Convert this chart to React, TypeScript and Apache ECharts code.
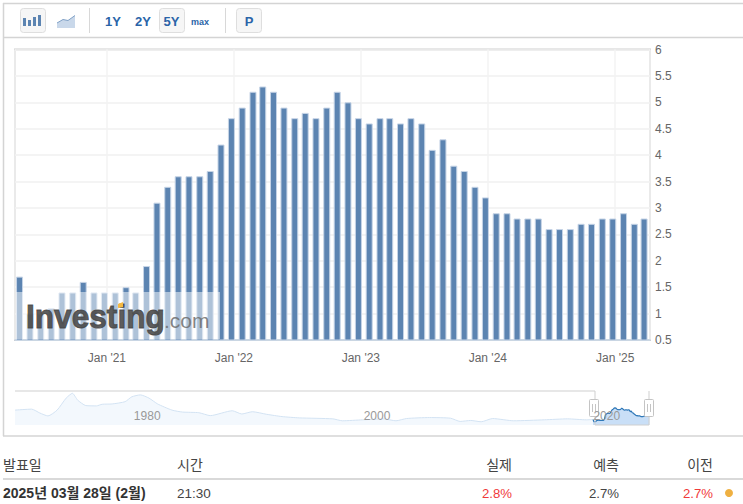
import React, { useEffect, useRef } from "react";
import * as echarts from "echarts";

const releaseDates = [
  "2020-04-25","2020-05-25","2020-06-25","2020-07-25","2020-08-25","2020-09-25","2020-10-25","2020-11-25","2020-12-25",
  "2021-01-25","2021-02-25","2021-03-25","2021-04-25","2021-05-25","2021-06-25","2021-07-25","2021-08-25","2021-09-25","2021-10-25","2021-11-25","2021-12-25",
  "2022-01-25","2022-02-25","2022-03-25","2022-04-25","2022-05-25","2022-06-25","2022-07-25","2022-08-25","2022-09-25","2022-10-25","2022-11-25","2022-12-25",
  "2023-01-25","2023-02-25","2023-03-25","2023-04-25","2023-05-25","2023-06-25","2023-07-25","2023-08-25","2023-09-25","2023-10-25","2023-11-25","2023-12-25",
  "2024-01-25","2024-02-25","2024-03-25","2024-04-25","2024-05-25","2024-06-25","2024-07-25","2024-08-25","2024-09-25","2024-10-25","2024-11-25","2024-12-25",
  "2025-01-25","2025-02-25","2025-03-25",
];
const releaseValues = [
  1.7,1.0,1.0,1.1,1.4,1.4,1.6,1.4,1.4,
  1.4,1.5,1.4,1.9,3.1,3.4,3.6,3.6,3.6,3.7,4.2,4.7,
  4.9,5.2,5.3,5.2,4.9,4.7,4.8,4.7,4.9,5.2,5.0,4.7,
  4.6,4.7,4.7,4.6,4.7,4.6,4.1,4.3,3.8,3.7,3.4,3.2,
  2.9,2.9,2.8,2.8,2.8,2.6,2.6,2.6,2.7,2.7,2.8,2.8,
  2.9,2.7,2.8,
];
const historyDates = [
  "1970-01-01","1971-06-15","1972-03-01","1972-11-15","1973-09-01","1974-06-15","1975-01-01","1975-06-15","1976-03-01","1977-02-01",
  "1977-08-01","1978-06-15","1979-08-01","1980-03-01","1980-12-01","1981-09-01","1982-06-01","1983-09-01","1984-08-01","1986-01-01",
  "1987-01-01","1988-12-01","1989-10-01","1990-09-01","1991-12-01","1993-04-01","1994-10-01","1997-09-01","1998-07-01","2000-04-01",
  "2002-02-01","2003-03-01","2004-02-01","2006-02-01","2007-12-01","2008-10-01","2009-09-01","2010-08-01","2011-08-01","2013-06-01",
  "2016-02-01","2018-02-01","2019-10-01","2020-04-25",
];
const historyValues = [
  4.6,4.9,3.7,2.8,4.6,8.3,9.8,7.7,6.0,5.9,
  6.4,6.5,7.2,8.7,9.3,8.3,6.5,4.6,4.0,3.8,
  2.9,4.4,3.4,4.1,3.3,2.6,2.2,1.9,1.3,1.6,
  1.9,1.3,2.0,2.3,2.1,1.1,1.4,1.0,2.0,1.3,
  1.6,1.9,1.6,1.7,
];
const navigatorYears = [1980, 2000, 2020];
const rangeButtons = ["1Y", "2Y", "5Y"];
const tableHeaders = ["실제", "예측", "이전"];
const tableRow = ["2.8%", "2.7%", "2.7%"];
const releaseLabel = "2025년 03월 28일 (2월)";
const releaseTime = "21:30";

const FONT = '"Liberation Sans", "Noto Sans CJK KR", sans-serif';
const YEAR = 365.25 * 86400000;

const hline = (x1: number, x2: number, y: number, stroke = "#d4d4d4", lineWidth = 1.5, z = 5) => ({
  type: "line", z, shape: { x1, y1: y, x2, y2: y }, style: { stroke, lineWidth },
});
const vline = (x: number, y1: number, y2: number, stroke = "#d4d4d4", lineWidth = 1.5, z = 5) => ({
  type: "line", z, shape: { x1: x, y1, x2: x, y2 }, style: { stroke, lineWidth },
});
const btn = (x: number, width: number) => ({
  type: "rect", z: 5, shape: { x: x + 0.5, y: 8.5, width, height: 24, r: 3 },
  style: { fill: "#f6f6f6", stroke: "#dedede", lineWidth: 1 },
});
const txt = (x: number, y: number, text: string, fill: string, font: string, align = "left", z = 6) => ({
  type: "text", z, x, y, style: { text, fill, font, textAlign: align, textVerticalAlign: "middle" },
});
const handle = (cx: number) => ({
  type: "group", children: [
    { type: "rect", z: 5, shape: { x: cx - 4.5, y: 399.5, width: 9, height: 17, r: 1 }, style: { fill: "#fff", stroke: "#c4c4c4", lineWidth: 1 } },
    { type: "line", z: 6, shape: { x1: cx - 1.5, y1: 404, x2: cx - 1.5, y2: 412 }, style: { stroke: "#c4c4c4", lineWidth: 1 } },
    { type: "line", z: 6, shape: { x1: cx + 1.5, y1: 404, x2: cx + 1.5, y2: 412 }, style: { stroke: "#c4c4c4", lineWidth: 1 } },
  ],
});

export default function App() {
  const ref = useRef<HTMLDivElement>(null);
  useEffect(() => {
    document.body.style.margin = "0";
    const chart = echarts.init(ref.current!, null, { renderer: "svg" });
    const bars = releaseDates.map((d, i) => [d, releaseValues[i]]);
    const history = historyDates.map((d, i) => [d, historyValues[i]]);
    chart.setOption({
      animation: false,
      backgroundColor: "#fff",
      grid: [
        { left: 15, top: 49.5, width: 635, height: 290.5, show: true, borderColor: "#cfcfcf", borderWidth: 2, backgroundColor: "#fff" },
        { left: 15, top: 391, width: 635, height: 34 },
      ],
      xAxis: [
        {
          type: "time", gridIndex: 0, min: "2020-04-22", max: "2025-04-01",
          minInterval: YEAR * 0.99, maxInterval: YEAR * 1.01,
          axisLine: { show: true, lineStyle: { color: "#c0d0e0", width: 1.5 } },
          axisTick: { show: false },
          splitLine: { show: true, lineStyle: { color: "#f3f3f3", width: 1.5 } },
          axisLabel: {
            color: "#666", fontFamily: FONT, fontSize: 12, margin: 12, showMinLabel: false, showMaxLabel: false,
            formatter: (v: number) => {
              const d = new Date(v);
              return d.getMonth() === 0 ? `Jan '${String(d.getFullYear()).slice(2)}` : "";
            },
          },
        },
        {
          type: "time", gridIndex: 1, min: "1970-01-01", max: "2025-04-11", z: 10,
          minInterval: YEAR * 9.9, maxInterval: YEAR * 10.1,
          axisLine: { show: false }, axisTick: { show: false },
          splitLine: { show: false },
          axisLabel: {
            inside: true, align: "left", padding: [0, 0, 0, 4], color: "#999", fontFamily: FONT, fontSize: 12, margin: 3,
            showMinLabel: false, showMaxLabel: false,
            formatter: (v: number) => {
              const y = new Date(v).getFullYear();
              return navigatorYears.includes(y) ? String(y) : "";
            },
          },
        },
      ],
      yAxis: [
        {
          type: "value", gridIndex: 0, position: "right", min: 0.5, max: 6, interval: 0.5,
          axisLine: { show: false }, axisTick: { show: false },
          splitLine: { show: true, lineStyle: { color: "#f1f1f1", width: 1.5 } },
          axisLabel: { color: "#666", fontFamily: FONT, fontSize: 12, margin: 5, formatter: (v: number) => String(v) },
        },
        {
          type: "value", gridIndex: 1, min: 0, max: 10.5, show: false,
          splitLine: { show: false },
        },
      ],
      series: [
        {
          type: "bar", xAxisIndex: 0, yAxisIndex: 0, data: bars, barWidth: 7,
          itemStyle: { color: "#5c84b1", borderColor: "#c6d4e6", borderWidth: 1 },
          silent: true,
        },
        {
          type: "line", xAxisIndex: 1, yAxisIndex: 1, data: history, showSymbol: false, smooth: 0.2, z: 1,
          lineStyle: { color: "#d3e3f3", width: 1 }, areaStyle: { color: "#f3f8fd", opacity: 1 }, silent: true,
        },
        {
          type: "line", xAxisIndex: 1, yAxisIndex: 1, data: bars, showSymbol: false, z: 1,
          lineStyle: { color: "#2f78b8", width: 1.2 }, areaStyle: { color: "#c9dff7", opacity: 1 }, silent: true,
        },
      ],
      graphic: [
        // outer frame and toolbar
        hline(3, 743, 3.5), hline(3, 743, 37.5), hline(3, 743, 436), vline(3.5, 3, 436),
        btn(20, 25), btn(159, 25), btn(236, 25),
        { type: "rect", z: 6, shape: { x: 23, y: 18, width: 3, height: 8 }, style: { fill: "#5c84b1" } },
        { type: "rect", z: 6, shape: { x: 28, y: 20, width: 3, height: 6 }, style: { fill: "#5c84b1" } },
        { type: "rect", z: 6, shape: { x: 33, y: 17, width: 3, height: 9 }, style: { fill: "#5c84b1" } },
        { type: "rect", z: 6, shape: { x: 38, y: 15, width: 3, height: 11 }, style: { fill: "#5c84b1" } },
        { type: "polygon", z: 6, shape: { points: [[57, 23], [63, 19.5], [68, 20.5], [75, 15.5], [75, 28], [57, 28]] }, style: { fill: "#c9d8ea" } },
        { type: "polyline", z: 6, shape: { points: [[57, 23], [63, 19.5], [68, 20.5], [75, 15.5]] }, style: { stroke: "#7fa0c6", lineWidth: 1, fill: "none" } },
        vline(89.5, 8, 33, "#d8d8d8", 1), vline(225.5, 8, 33, "#d8d8d8", 1),
        txt(113, 21, rangeButtons[0], "#2a64a8", `bold 13px ${FONT}`, "center"),
        txt(143, 21, rangeButtons[1], "#2a64a8", `bold 13px ${FONT}`, "center"),
        txt(171.5, 21, rangeButtons[2], "#2a64a8", `bold 13px ${FONT}`, "center"),
        txt(200, 22, "max", "#2a64a8", `bold 9px ${FONT}`, "center"),
        txt(249, 21, "P", "#2a64a8", `bold 13px ${FONT}`, "center"),
        // watermark
        { type: "rect", z: 20, shape: { x: 16, y: 292, width: 204, height: 47 }, style: { fill: "rgba(255,255,255,0.5)" } },
        { type: "text", z: 21, x: 26, y: 333, scaleX: 0.93, style: { text: "Investing", fill: "rgba(70,70,70,0.88)", stroke: "rgba(70,70,70,0.88)", lineWidth: 1, font: `bold 34px ${FONT}`, textVerticalAlign: "bottom" } },
        { type: "text", z: 21, x: 164, y: 331, style: { text: ".com", fill: "rgba(110,110,110,0.85)", font: `21px ${FONT}`, textVerticalAlign: "bottom" } },
        { type: "polygon", z: 22, shape: { points: [[118, 304], [123, 302], [123, 307], [118, 308]] }, style: { fill: "#f5b942" } },
        // navigator
        hline(15, 595, 391, "#cfcfcf", 1), vline(595, 391, 425, "#cfcfcf", 1), hline(595, 649, 425, "#cfcfcf", 1), vline(649, 391, 425, "#cfcfcf", 1),
        handle(594), handle(649),
        // table
        txt(3, 465, "발표일", "#444", `14px ${FONT}`),
        txt(177, 465, "시간", "#444", `14px ${FONT}`),
        txt(512, 465, tableHeaders[0], "#444", `14px ${FONT}`, "right"),
        txt(619, 465, tableHeaders[1], "#444", `14px ${FONT}`, "right"),
        txt(713, 465, tableHeaders[2], "#444", `14px ${FONT}`, "right"),
        hline(3, 743, 479, "#cccccc", 1.5),
        txt(3, 493, releaseLabel, "#333", `bold 14px ${FONT}`),
        txt(177, 493, releaseTime, "#444", `13.5px ${FONT}`),
        txt(512, 493, tableRow[0], "#f03a3a", `13.2px ${FONT}`, "right"),
        txt(619, 493, tableRow[1], "#444", `13.2px ${FONT}`, "right"),
        txt(713, 493, tableRow[2], "#f03a3a", `13.2px ${FONT}`, "right"),
        { type: "circle", z: 6, shape: { cx: 729, cy: 493, r: 4 }, style: { fill: "#efb041" } },
      ],
    });
    return () => chart.dispose();
  }, []);
  return <div ref={ref} style={{ width: 743, height: 504 }} />;
}
